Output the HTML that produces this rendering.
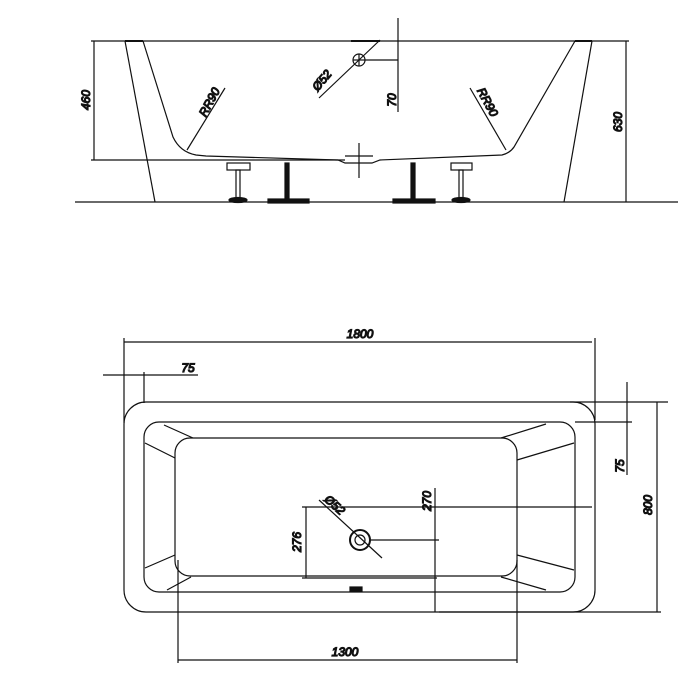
<!DOCTYPE html>
<html><head><style>body{margin:0;background:#fff}svg{display:block}text{font-family:"Liberation Sans",sans-serif;font-style:italic;font-size:12px;fill:#111}</style></head>
<body>
<svg width="700" height="700" viewBox="0 0 700 700" xmlns="http://www.w3.org/2000/svg" fill="none" stroke="#111" stroke-width="1.2">
<!-- SIDE VIEW -->
<line x1="75" y1="202" x2="678" y2="202"/>
<line x1="91" y1="41" x2="629" y2="41"/>
<line x1="91" y1="160" x2="345" y2="160"/>
<line x1="94" y1="41" x2="94" y2="160"/>
<line x1="626" y1="41" x2="626" y2="202"/>
<text transform="translate(90,100) rotate(-90)" text-anchor="middle">460</text>
<text transform="translate(622,122) rotate(-90)" text-anchor="middle">630</text>
<path d="M125,41 L155,202"/>
<path d="M143,41 L173,137 Q180,152 196,155 L206,156 L338,160 L345,163 L372,163 L380,160 L502,155 Q510,153 514,147 L575,41"/>
<path d="M592,41 L564,202"/>
<path d="M125,41 h18 M575,41 h17" stroke-width="2"/>
<!-- center -->
<line x1="398" y1="18" x2="398" y2="112"/>
<circle cx="359" cy="60" r="6"/>
<line x1="353" y1="60" x2="365" y2="60"/><line x1="359" y1="54" x2="359" y2="66"/>
<line x1="365" y1="60" x2="398" y2="60"/>
<line x1="380" y1="40" x2="319" y2="98"/>
<line x1="351" y1="41" x2="380" y2="41" stroke-width="2"/>
<text transform="translate(325,83) rotate(-50)" text-anchor="middle">Ø52</text>
<text transform="translate(396,100) rotate(-90)" text-anchor="middle">70</text>
<line x1="359" y1="143" x2="359" y2="178"/><line x1="345" y1="156" x2="373" y2="156"/>
<!-- RR90 -->
<line x1="187" y1="150" x2="225" y2="88"/>
<text transform="translate(213,104) rotate(-62)" text-anchor="middle">RR90</text>
<line x1="506" y1="150" x2="470" y2="88"/>
<text transform="translate(484,104) rotate(62)" text-anchor="middle">RR90</text>
<!-- legs -->
<rect x="227" y="163" width="23" height="7"/>
<rect x="236" y="170" width="4" height="30"/>
<ellipse cx="238" cy="200" rx="9" ry="2.5" fill="#111"/>
<rect x="451" y="163" width="21" height="7"/>
<rect x="459" y="170" width="4" height="30"/>
<ellipse cx="461" cy="200" rx="9" ry="2.5" fill="#111"/>
<rect x="285" y="163" width="4" height="37" fill="#111"/>
<rect x="268" y="199" width="41" height="4" fill="#111"/>
<rect x="411" y="163" width="4" height="37" fill="#111"/>
<rect x="393" y="199" width="42" height="4" fill="#111"/>
<!-- PLAN VIEW -->
<rect x="124" y="402" width="471" height="210" rx="22"/>
<rect x="144" y="422" width="431" height="170" rx="15"/>
<rect x="175" y="438" width="342" height="138" rx="15"/>
<path d="M164,425 L193,438 M145,443 L175,458 M145,568 L175,555 M167,590 L191,577 M501,438 L546,424 M517,460 L574,443 M517,555 L574,570 M501,577 L546,590"/>
<rect x="350" y="587" width="12" height="4" fill="#111"/>
<!-- 1800 -->
<line x1="124" y1="338" x2="124" y2="423"/>
<line x1="595" y1="338" x2="595" y2="420"/>
<line x1="124" y1="342" x2="592" y2="342"/>
<text x="360" y="338" text-anchor="middle">1800</text>
<!-- 75 -->
<line x1="103" y1="375" x2="198" y2="375"/>
<line x1="144" y1="372" x2="144" y2="403"/>
<text x="188" y="372" text-anchor="middle">75</text>
<!-- right dims -->
<line x1="570" y1="402" x2="668" y2="402"/>
<line x1="575" y1="422" x2="632" y2="422"/>
<line x1="627" y1="382" x2="627" y2="475"/>
<text transform="translate(624,466) rotate(-90)" text-anchor="middle">75</text>
<line x1="657" y1="402" x2="657" y2="612"/>
<line x1="439" y1="612" x2="661" y2="612"/>
<text transform="translate(652,505) rotate(-90)" text-anchor="middle">800</text>
<!-- drain -->
<circle cx="360" cy="540" r="10" stroke-width="2"/>
<circle cx="360" cy="540" r="5"/>
<line x1="319" y1="500" x2="382" y2="558"/>
<text transform="translate(332,508) rotate(42)" text-anchor="middle">Ø52</text>
<line x1="302" y1="507" x2="592" y2="507"/>
<line x1="306" y1="507" x2="306" y2="578"/>
<line x1="302" y1="578" x2="437" y2="578"/>
<text transform="translate(301,542) rotate(-90)" text-anchor="middle">276</text>
<line x1="370" y1="540" x2="439" y2="540"/>
<line x1="435" y1="488" x2="435" y2="612"/>
<text transform="translate(431,501) rotate(-90)" text-anchor="middle">270</text>
<!-- 1300 -->
<line x1="178" y1="560" x2="178" y2="663"/>
<line x1="517" y1="560" x2="517" y2="663"/>
<line x1="178" y1="660" x2="517" y2="660"/>
<text x="345" y="656" text-anchor="middle">1300</text>
</svg>
</body></html>
